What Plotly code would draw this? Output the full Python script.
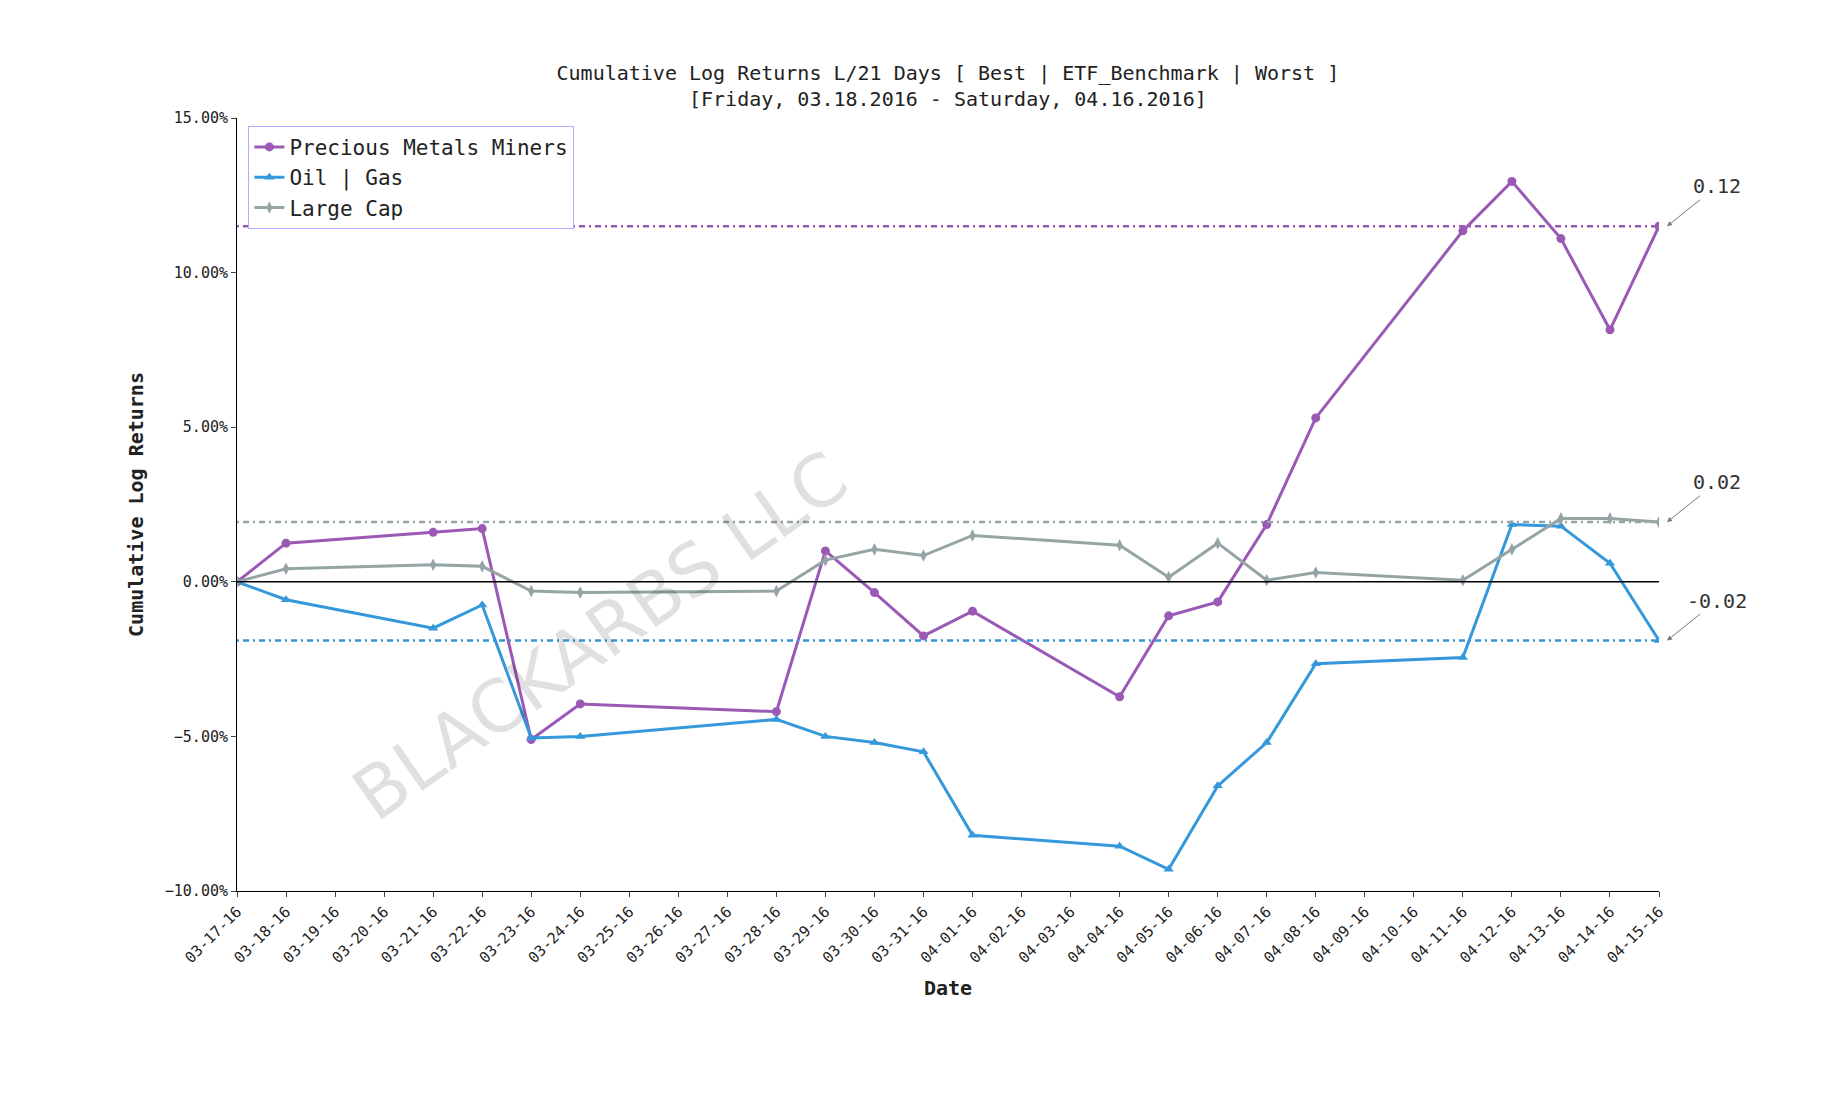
import plotly.graph_objects as go
import pandas as pd

dates = ["2016-03-17", "2016-03-18", "2016-03-21", "2016-03-22", "2016-03-23", "2016-03-24",
         "2016-03-28", "2016-03-29", "2016-03-30", "2016-03-31", "2016-04-01", "2016-04-04",
         "2016-04-05", "2016-04-06", "2016-04-07", "2016-04-08", "2016-04-11", "2016-04-12",
         "2016-04-13", "2016-04-14", "2016-04-15"]
miners = [0, 1.25, 1.6, 1.72, -5.1, -3.95, -4.2, 1.0, -0.35, -1.75, -0.95, -3.72, -1.1,
          -0.65, 1.85, 5.3, 11.35, 12.95, 11.1, 8.15, 11.5]
oil = [0, -0.58, -1.5, -0.75, -5.05, -5.0, -4.45, -5.0, -5.2, -5.5, -8.2, -8.55, -9.3,
       -6.6, -5.2, -2.65, -2.45, 1.85, 1.8, 0.6, -1.9]
large = [0, 0.42, 0.55, 0.5, -0.3, -0.35, -0.3, 0.7, 1.05, 0.85, 1.5, 1.18, 0.15, 1.25,
         0.05, 0.3, 0.05, 1.05, 2.05, 2.05, 1.93]
names = ["Precious Metals Miners", "Oil | Gas", "Large Cap"]
colors = ["#9b59b6", "#3498db", "#95a5a6"]
symbols = ["circle", "triangle-up", "diamond-tall"]
tick_dates = pd.date_range("2016-03-17", "2016-04-15")

font = "DejaVu Sans Mono"
fig = go.Figure()
for name, vals, c, s in zip(names, [miners, oil, large], colors, symbols):
    y = [v / 100 for v in vals]
    fig.add_trace(go.Scatter(x=dates, y=y, name=name, mode="lines+markers",
                             line=dict(color=c, width=3), marker=dict(symbol=s, size=9, color=c)))
    fig.add_hline(y=y[-1], line=dict(color=c, width=2.5, dash="2px,4px,6px,4px"))
    fig.add_annotation(x=dates[-1], y=y[-1], text="%.2f" % y[-1], showarrow=True,
                       arrowhead=2, arrowcolor="#777", arrowwidth=1, ax=50, ay=-40,
                       xshift=8, font=dict(size=20, color="#333", family=font))

fig.add_hline(y=0, line=dict(color="black", width=1.5))
fig.add_annotation(text="BLACKARBS LLC", xref="paper", yref="paper", x=0.255, y=0.33,
                   xanchor="center", yanchor="middle",
                   showarrow=False, textangle=-35, font=dict(size=72, color="rgba(0,0,0,0.12)", family="DejaVu Sans"))

fig.update_layout(
    width=1825, height=1100, plot_bgcolor="white", paper_bgcolor="white",
    margin=dict(l=229, r=174, t=110, b=217),
    font=dict(family=font, color="#222"),
    title=dict(text="Cumulative Log Returns L/21 Days [ Best | ETF_Benchmark | Worst ]<br>[Friday, 03.18.2016 - Saturday, 04.16.2016]",
               x=0.515, xanchor="center", y=0.935, font=dict(size=20)),
    legend=dict(x=0.008, y=0.99, bordercolor="#b8a8ff", borderwidth=1, font=dict(size=21),
                bgcolor="white"),
    xaxis=dict(tickvals=tick_dates, ticktext=[d.strftime("%m-%d-%y") for d in tick_dates],
               tickangle=-45, range=["2016-03-17", "2016-04-15"], showgrid=False,
               showline=True, linecolor="black", ticks="outside", tickfont=dict(size=15),
               title=dict(text="<b>Date</b>", font=dict(size=20))),
    yaxis=dict(range=[-0.1, 0.15], tickformat=".2%", dtick=0.05, showgrid=False, zeroline=False,
               showline=True, linecolor="black", ticks="outside", tickfont=dict(size=15),
               title=dict(text="<b>Cumulative Log Returns</b>", font=dict(size=20))),
)
fig.write_html("out.html")
